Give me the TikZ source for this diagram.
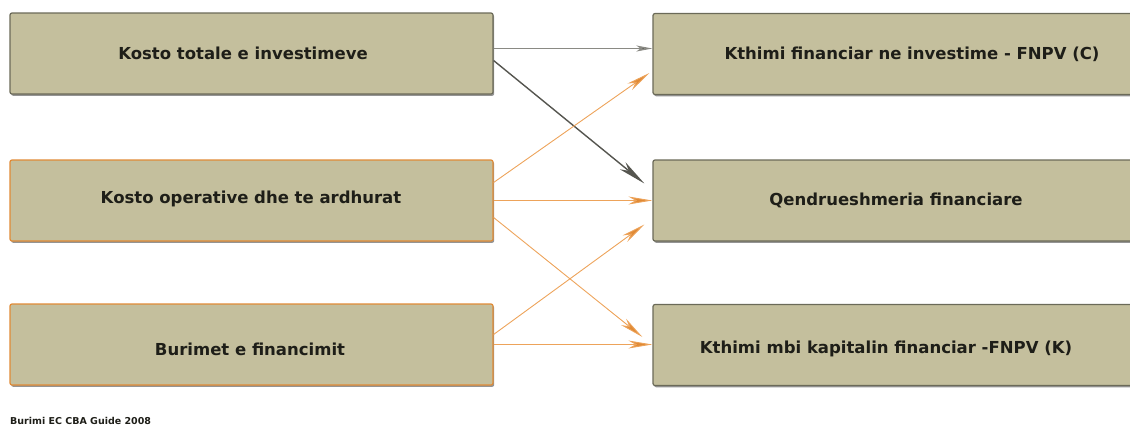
\documentclass[tikz,border=0pt]{standalone}
\usepackage{fontspec}
\setmainfont{DejaVu Sans}
\usetikzlibrary{arrows.meta,shadows}
\definecolor{boxfill}{HTML}{C4BF9D}
\definecolor{boxline}{HTML}{6B6A58}
\definecolor{orline}{HTML}{E08A35}
\definecolor{grayline}{HTML}{8A8A84}
\definecolor{darkline}{HTML}{55554F}
\definecolor{arrorange}{HTML}{EDA35A}
\definecolor{txt}{HTML}{1E1E18}
\tikzset{
  box/.style={draw=boxline, line width=1.2pt, fill=boxfill, rounded corners=2pt,
    minimum height=81pt, inner sep=0pt,
    drop shadow={shadow xshift=1.2pt, shadow yshift=-1.8pt, fill=black!70, opacity=0.6}},
  lbox/.style={box, minimum width=483pt},
  obox/.style={lbox, draw=orline},
  rbox/.style={box, minimum width=480pt},
  lbl/.style={inner sep=0pt, text=txt, font=\bfseries\fontsize{16.5}{18}\selectfont},
  garr/.style={draw=grayline, line width=1.3pt, -{Stealth[length=16pt,width=6pt,inset=4pt,fill=darkline]}},
  darr/.style={draw=darkline, line width=1.4pt, -{Stealth[length=28pt,width=9pt,inset=8pt]}},
  oarr/.style={draw=arrorange, line width=0.9pt, -{Stealth[length=24pt,width=8pt,inset=7pt,fill=orline]}},
}
\begin{document}
\begin{tikzpicture}[x=1pt,y=-1pt]
\useasboundingbox (0,0) rectangle (1130,426);
\node[lbox] (a) at (251.5,53.5) {};
\node[obox] (b) at (251.5,200.5) {};
\node[obox] (c) at (251.5,344.5) {};
\node[rbox] (p) at (893,54) {};
\node[rbox] (q) at (893,200.5) {};
\node[rbox] (r) at (893,345) {};
\node[lbl] (ta) at (243,53) {Kosto totale e investimeve};
\node[lbl] (tb) at (251,199) {Kosto operative dhe te ardhurat};
\node[lbl] (tc) at (250,349) {Burimet e financimit};
\node[lbl] (tp) at (912,54) {Kthimi financiar ne investime - FNPV (C)};
\node[lbl] (tq) at (896,200) {Qendrueshmeria financiare};
\node[lbl] (tr) at (886,349) {Kthimi mbi kapitalin financiar -FNPV (K)};
\coordinate (a1) at ([yshift=5pt]a.east);
\coordinate (a2) at ([yshift=-7pt]a.east);
\coordinate (b1) at ([yshift=18pt]b.east);
\coordinate (b3) at ([yshift=-17pt]b.east);
\coordinate (c1) at ([yshift=10pt]c.east);
\coordinate (p1) at ([xshift=-3pt,yshift=-19pt]p.west);
\coordinate (q1) at ([xshift=-8pt,yshift=17pt]q.west);
\coordinate (q3) at ([xshift=-8pt,yshift=-24pt]q.west);
\coordinate (r1) at ([xshift=-10pt,yshift=8pt]r.west);
\draw[garr] (a1) -- (a1 -| p.west);
\draw[darr] (a2) -- (q1);
\draw[oarr] (b1) -- (p1);
\draw[oarr] (b.east) -- (q.west);
\draw[oarr] (b3) -- (r1);
\draw[oarr] (c1) -- (q3);
\draw[oarr] (c.east) -- (c.east -| r.west);
\node[anchor=west, inner sep=0pt, font=\bfseries\fontsize{9.5}{11}\selectfont, text=txt] (src) at (10,421) {Burimi EC CBA Guide 2008};
\end{tikzpicture}
\end{document}
